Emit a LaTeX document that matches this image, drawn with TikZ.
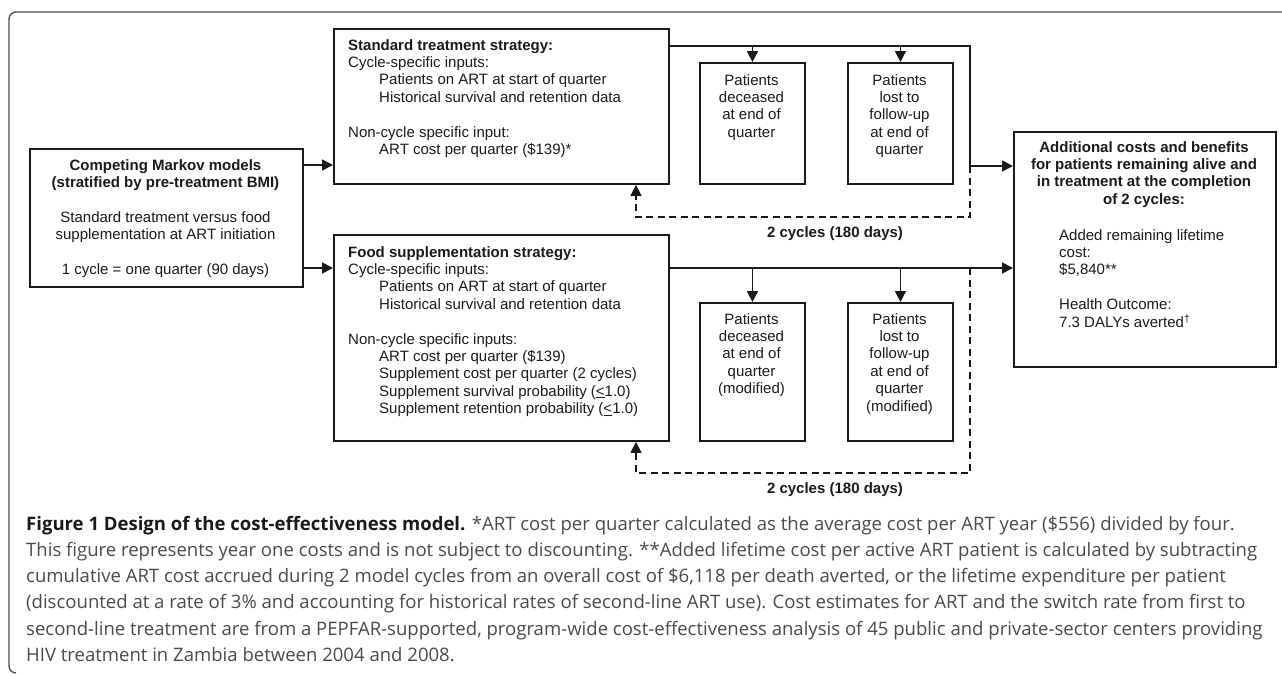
\documentclass[tikz,border=0pt]{standalone}
\usepackage{fontspec}
\setmainfont{Liberation Sans}
\newfontfamily\capfont{Open Sans}
\usetikzlibrary{arrows.meta}
\definecolor{ink}{HTML}{1A1A1A}
\definecolor{capgray}{HTML}{4A4A4A}
\definecolor{framegray}{HTML}{4A4A4A}
\newlength\caplen
\begin{document}
\settowidth\caplen{\capfont\fontsize{10}{12}\selectfont This figure represents year one costs and is not subject to discounting. **Added lifetime cost per active ART patient is calculated by subtracting}%
\pgfmathsetmacro\capsz{10*1231/\caplen}%
\begin{tikzpicture}[x=1pt,y=-1pt,
  box/.style={draw=ink, line width=1.9pt, inner sep=0pt, anchor=north west, rectangle},
  txt/.style={inner sep=0pt, text=ink, font=\fontsize{15}{17.4}\selectfont},
  btxt/.style={inner sep=0pt, text=ink, font=\fontsize{15}{17.4}\selectfont\bfseries},
  conn/.style={draw=ink, line width=1.7pt},
  arr/.style={conn, -{Triangle[length=11pt,width=11pt]}},
  dsh/.style={draw=ink, line width=1.5pt, dash pattern=on 7pt off 4.5pt},
  darr/.style={dsh, -{Triangle[length=11pt,width=11pt]}},
]
\useasboundingbox (0,0) rectangle (1282,675);

% outer frame
\draw[framegray, line width=1.3pt, rounded corners=7pt] (1292,12) -- (9,12) -- (9,673) -- (16,673);

% boxes
\node[box, minimum width=273pt, minimum height=138pt] (comp) at (29,148) {};
\node[box, minimum width=335pt, minimum height=155pt] (std) at (333,28) {};
\node[box, minimum width=105pt, minimum height=121pt] (dec1) at (699,62) {};
\node[box, minimum width=105pt, minimum height=121pt] (lost1) at (847,62) {};
\node[box, minimum width=335pt, minimum height=206pt] (food) at (333,234) {};
\node[box, minimum width=105pt, minimum height=138pt] (dec2) at (699,302) {};
\node[box, minimum width=105pt, minimum height=138pt] (lost2) at (847,302) {};
\node[box, minimum width=262pt, minimum height=235pt] (res) at (1013,131) {};

% texts
\node[txt, anchor=base] (comptxt) at (165.5,170) {\begin{tabular}[t]{@{}c@{}}\bfseries Competing Markov models\\ \bfseries (stratified by pre-treatment BMI)\\ \\ Standard treatment versus food\\ supplementation at ART initiation\\ \\ 1 cycle = one quarter (90 days)\end{tabular}};

\node[txt, anchor=base west] (stdtxt) at (348,50) {\begin{tabular}[t]{@{}l@{}}\bfseries Standard treatment strategy:\\ Cycle-specific inputs:\\ \hspace*{31pt}Patients on ART at start of quarter\\ \hspace*{31pt}Historical survival and retention data\\ \\ Non-cycle specific input:\\ \hspace*{31pt}ART cost per quarter (\$139)*\end{tabular}};

\node[txt, anchor=base west] (foodtxt) at (348,257) {\begin{tabular}[t]{@{}l@{}}\bfseries Food supplementation strategy:\\ Cycle-specific inputs:\\ \hspace*{31pt}Patients on ART at start of quarter\\ \hspace*{31pt}Historical survival and retention data\\ \\ Non-cycle specific inputs:\\ \hspace*{31pt}ART cost per quarter (\$139)\\ \hspace*{31pt}Supplement cost per quarter (2 cycles)\\ \hspace*{31pt}Supplement survival probability (\underline{<}1.0)\\ \hspace*{31pt}Supplement retention probability (\underline{<}1.0)\end{tabular}};

\node[txt, anchor=base] (dec1txt) at (751.5,85) {\begin{tabular}[t]{@{}c@{}}Patients\\ deceased\\ at end of\\ quarter\end{tabular}};
\node[txt, anchor=base] (lost1txt) at (899.5,85) {\begin{tabular}[t]{@{}c@{}}Patients\\ lost to\\ follow-up\\ at end of\\ quarter\end{tabular}};
\node[txt, anchor=base] (dec2txt) at (751.5,324) {\begin{tabular}[t]{@{}c@{}}Patients\\ deceased\\ at end of\\ quarter\\ (modified)\end{tabular}};
\node[txt, anchor=base] (lost2txt) at (899.5,324) {\begin{tabular}[t]{@{}c@{}}Patients\\ lost to\\ follow-up\\ at end of\\ quarter\\ (modified)\end{tabular}};

\node[btxt, anchor=base] (restitle) at (1144,152) {\begin{tabular}[t]{@{}c@{}}Additional costs and benefits\\ for patients remaining alive and\\ in treatment at the completion\\ of 2 cycles:\end{tabular}};
\node[txt, anchor=base west] (resbody) at (1059,240) {\begin{tabular}[t]{@{}l@{}}Added remaining lifetime\\ cost:\\ \$5,840**\\ \\ Health Outcome:\\ 7.3 DALYs averted\textsuperscript{†}\end{tabular}};

\node[btxt] (cyc1) at (835,234) {2 cycles (180 days)};
\node[btxt] (cyc2) at (835,490) {2 cycles (180 days)};

% connectors
\coordinate (r1) at (0,165);
\coordinate (r2) at (0,268);
\coordinate (tj) at (970,46);
\coordinate (tm) at (970,166);
\coordinate (td1) at (970,217);
\coordinate (td2) at (636,217);
\coordinate (bj) at (970,268);
\coordinate (bd1) at (970,473);
\coordinate (bd2) at (636,473);

\draw[arr] (comp.east |- r1) -- (std.west |- r1);
\draw[arr] (comp.east |- r2) -- (food.west |- r2);

\draw[conn] (std.east |- tj) -- (tj) -- (tm);
\draw[arr] (tm) -- (res.west |- tm);
\draw[arr] (dec1.north |- tj) -- (dec1.north);
\draw[arr] (lost1.north |- tj) -- (lost1.north);
\draw[darr] (tm) -- (td1) -- (td2) -- (td2 |- std.south);

\draw[arr] (food.east |- bj) -- (res.west |- bj);
\draw[arr] (dec2.north |- bj) -- (dec2.north);
\draw[arr] (lost2.north |- bj) -- (lost2.north);
\draw[darr] (bj) -- (bd1) -- (bd2) -- (bd2 |- food.south);

% caption
\node[inner sep=0pt, anchor=base west, text=capgray, font=\capfont\fontsize{\capsz}{26.3}\selectfont] (cap) at (26,530) {\begin{tabular}[t]{@{}l@{}}{\color{ink}\bfseries Figure 1 Design of the cost-effectiveness model.} *ART cost per quarter calculated as the average cost per ART year (\$556) divided by four.\\
This figure represents year one costs and is not subject to discounting. **Added lifetime cost per active ART patient is calculated by subtracting\\
cumulative ART cost accrued during 2 model cycles from an overall cost of \$6,118 per death averted, or the lifetime expenditure per patient\\
(discounted at a rate of 3\% and accounting for historical rates of second-line ART use). Cost estimates for ART and the switch rate from first to\\
second-line treatment are from a PEPFAR-supported, program-wide cost-effectiveness analysis of 45 public and private-sector centers providing\\
HIV treatment in Zambia between 2004 and 2008.\end{tabular}};
\end{tikzpicture}
\end{document}
